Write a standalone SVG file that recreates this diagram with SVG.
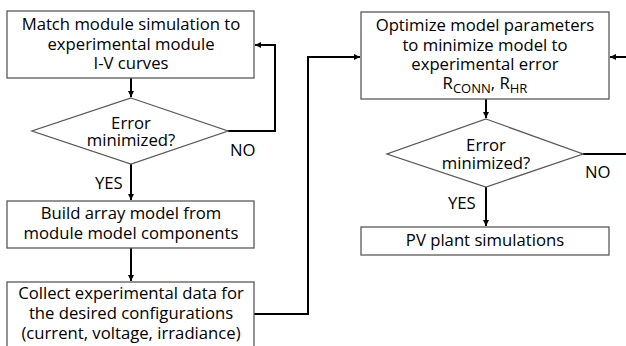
<svg xmlns="http://www.w3.org/2000/svg" width="626" height="346" viewBox="0 0 626 346">
<style>
.box{fill:#fff;stroke:#595959;stroke-width:1.3}
.t{font-family:"Open Sans","Liberation Sans",sans-serif;font-size:16.7px;fill:#000;text-anchor:middle}
.lbl{font-family:"Open Sans","Liberation Sans",sans-serif;font-size:16.7px;fill:#000}
.c{fill:none;stroke:#000;stroke-width:2}
</style>
<defs>
<marker id="ah" viewBox="0 0 10 10" refX="10" refY="5" markerWidth="3.2" markerHeight="3.2" orient="auto" markerUnits="strokeWidth">
<path d="M0,0L10,5L0,10z" fill="#000"/>
</marker>
</defs>
<rect width="626" height="346" fill="#fff"/>
<g id="connectors">
<path class="c" d="M131,78V97" marker-end="url(#ah)"/>
<path class="c" d="M228,131H275V45H255" marker-end="url(#ah)"/>
<path class="c" d="M131,164V200" marker-end="url(#ah)"/>
<path class="c" d="M131,248V281" marker-end="url(#ah)"/>
<path class="c" d="M254,314H308V57H360" marker-end="url(#ah)"/>
<path class="c" d="M486,99V118" marker-end="url(#ah)"/>
<path class="c" d="M583,154H630V57H610" marker-end="url(#ah)"/>
<path class="c" d="M486,187V226" marker-end="url(#ah)"/>
</g>
<g id="n1">
<rect class="box" x="7" y="11" width="247" height="67"/>
<text class="t" x="131" y="30">Match module simulation to<tspan x="131" dy="19.5">experimental module</tspan><tspan x="131" dy="19.5">I-V curves</tspan></text>
</g>
<g id="d1">
<polygon class="box" points="131,98 228,131 131,164 32,131"/>
<text class="t" x="131" y="129">Error<tspan x="131" dy="16.5">minimized?</tspan></text>
</g>
<g id="n2">
<rect class="box" x="7" y="201" width="247" height="47"/>
<text class="t" x="131" y="219">Build array model from<tspan x="131" dy="19.5">module model components</tspan></text>
</g>
<g id="n3">
<rect class="box" x="7" y="282" width="247" height="70"/>
<text class="t" x="131" y="299">Collect experimental data for<tspan x="131" dy="20">the desired configurations</tspan><tspan x="131" dy="20">(current, voltage, irradiance)</tspan></text>
</g>
<g id="n4">
<rect class="box" x="361" y="12" width="248" height="87"/>
<text class="t" x="485" y="31">Optimize model parameters<tspan x="485" dy="19.5">to minimize model to</tspan><tspan x="485" dy="19">experimental error</tspan><tspan x="485" dy="19">R</tspan><tspan font-size="13" dy="4">CONN</tspan><tspan dy="-4">, R</tspan><tspan font-size="13" dy="4">HR</tspan></text>
</g>
<g id="d2">
<polygon class="box" points="486,119 583,154 486,187 387,154"/>
<text class="t" x="486" y="151">Error<tspan x="486" dy="18">minimized?</tspan></text>
</g>
<g id="n5">
<rect class="box" x="361" y="227" width="248" height="28"/>
<text class="t" x="485" y="246">PV plant simulations</text>
</g>
<g id="labels">
<text class="lbl" x="230" y="156">NO</text>
<text class="lbl" x="95" y="189">YES</text>
<text class="lbl" x="585" y="178">NO</text>
<text class="lbl" x="448" y="209">YES</text>
</g>
</svg>
